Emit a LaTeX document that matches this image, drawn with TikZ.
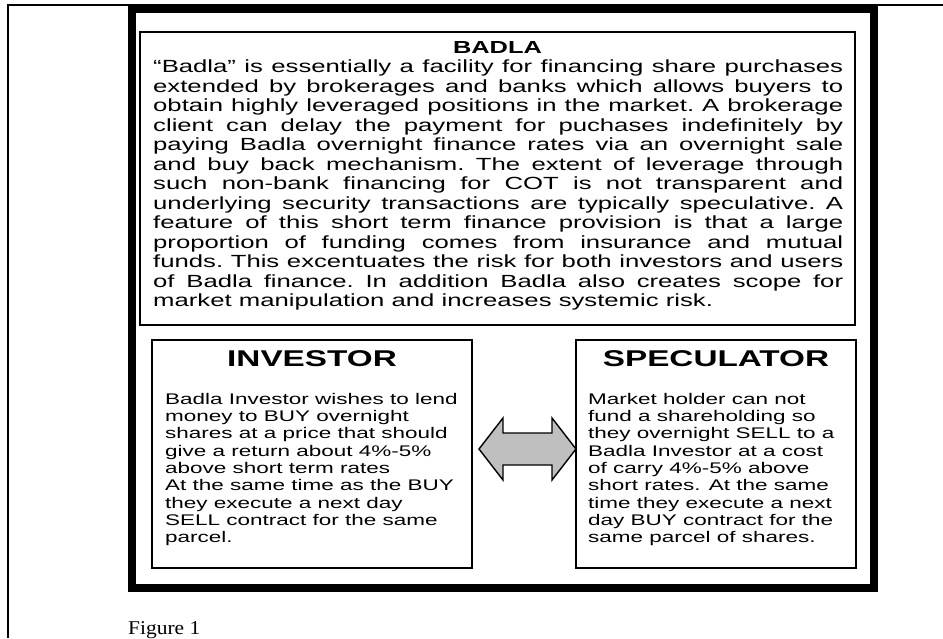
\documentclass[tikz,border=0pt]{standalone}
\usepackage{fontspec}
\newfontfamily\widesans{Liberation Sans}[FakeStretch=1.46]
\newfontfamily\capserif{Liberation Serif}[FakeStretch=1.1]
\begin{document}
\begin{tikzpicture}[x=1pt,y=-1pt,
    panel/.style={draw,line width=1.6pt,inner sep=0pt},
    heading/.style={font=\widesans\bfseries\fontsize{22.8}{26}\selectfont,anchor=base,inner sep=0pt},
    body/.style={font=\widesans\fontsize{15.4}{17.3}\selectfont,align=left,anchor=north west,inner sep=0pt},
    swaparrow/.style={draw,line width=1.4pt,fill=black!25,line join=miter}]
    \useasboundingbox (0,0) rectangle (943,638);

    % Page frame
    \draw[line width=2pt] (8,638) -- (8,5) -- (943,5);
    % Thick border
    \draw[line width=8pt] (132,9) rectangle (874,588);

    % Badla box
    \node[panel,minimum width=715pt,minimum height=293pt] (badla) at (497.5,178.5) {};
    \node[font=\widesans\bfseries\fontsize{17.4}{20}\selectfont,anchor=base,inner sep=0pt] (badlatitle) at (497.5,53) {BADLA};
    \node[body,font=\widesans\fontsize{17.6}{19.5}\selectfont\frenchspacing,text width=690pt,align=justify] (badlatext) at (153,60) {%
        “Badla” is essentially a facility for financing share purchases\linebreak
        extended by brokerages and banks which allows buyers to\linebreak
        obtain highly leveraged positions in the market. A brokerage\linebreak
        client can delay the payment for puchases indefinitely by\linebreak
        paying Badla overnight finance rates via an overnight sale\linebreak
        and buy back mechanism. The extent of leverage through\linebreak
        such non-bank financing for COT is not transparent and\linebreak
        underlying security transactions are typically speculative. A\linebreak
        feature of this short term finance provision is that a large\linebreak
        proportion of funding comes from insurance and mutual\linebreak
        funds. This excentuates the risk for both investors and users\linebreak
        of Badla finance. In addition Badla also creates scope for\linebreak
        market manipulation and increases systemic risk.};

    % Investor box
    \node[panel,minimum width=320pt,minimum height=228pt] (inv) at (312,454) {};
    \node[heading] (invtitle) at (312,366) {INVESTOR};
    \node[body] (invtext) at (165,393) {%
        Badla Investor wishes to lend\\
        money to BUY overnight\\
        shares at a price that should\\
        give a return about 4\%-5\%\\
        above short term rates\\
        At the same time as the BUY\\
        they execute a next day\\
        SELL contract for the same\\
        parcel.};

    % Speculator box
    \node[panel,minimum width=280pt,minimum height=228pt] (spec) at (716,454) {};
    \node[heading] (spectitle) at (716,366) {SPECULATOR};
    \node[body] (spectext) at (588,393) {%
        Market holder can not\\
        fund a shareholding so\\
        they overnight SELL to a\\
        Badla Investor at a cost\\
        of carry 4\%-5\% above\\
        short rates. At the same\\
        time they execute a next\\
        day BUY contract for the\\
        same parcel of shares.};

    % Double arrow between the two
    \coordinate (tipL) at (479,449);
    \coordinate (tipR) at (576,449);
    \draw[swaparrow] (tipL) -- ++(24,-31) -- ++(0,15) -- ++(49,0) -- ++(0,-15) -- (tipR)
        -- ++(-24,31) -- ++(0,-15) -- ++(-49,0) -- ++(0,15) -- cycle;

    % Caption
    \node[font=\capserif\fontsize{19.5}{22}\selectfont,anchor=base west,inner sep=0pt] (caption) at (128,634) {Figure 1};
\end{tikzpicture}
\end{document}
